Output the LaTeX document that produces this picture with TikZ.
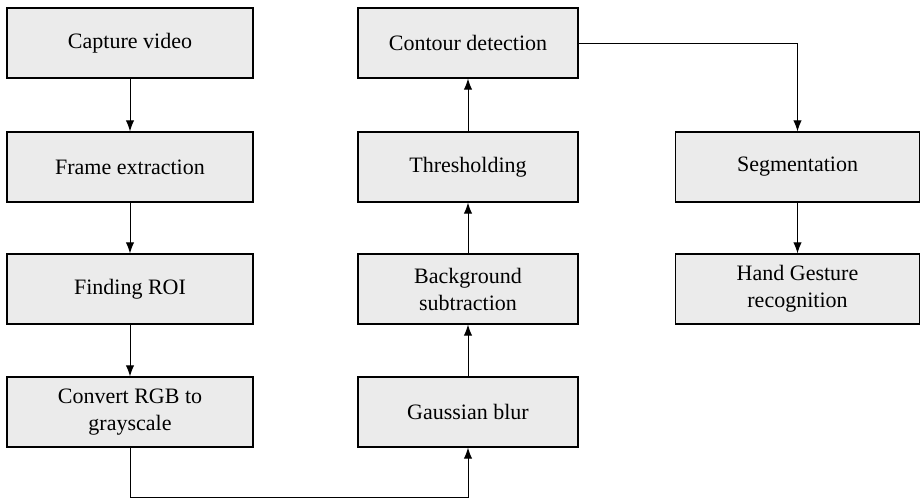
\documentclass[tikz,border=0pt]{standalone}
\usepackage{fontspec}
\setmainfont{LiberationSerif-Regular.ttf}
\usetikzlibrary{arrows.meta}
\definecolor{boxfill}{HTML}{EBEBEB}
\tikzset{
  stepbox/.style={draw=black, line width=0.6pt, fill=boxfill, rectangle,
    minimum height=35pt, align=center, inner sep=2pt,
    font=\rmfamily\fontsize{11pt}{13.5pt}\selectfont},
  colA/.style={stepbox, minimum width=123pt},
  colB/.style={stepbox, minimum width=110pt},
  colC/.style={stepbox, minimum width=122pt},
  flow/.style={line width=0.5pt, -{Latex[length=5.5pt,width=4.2pt]}}
}
\begin{document}
\begin{tikzpicture}[x=0.5pt, y=-0.5pt]
  \useasboundingbox (0,0) rectangle (921,500);
  % left column
  \node[colA] (cap)  at (130,43)  {Capture video};
  \node[colA] (fra)  at (130,167) {Frame extraction};
  \node[colA] (roi)  at (130,289) {Finding ROI};
  \node[colA] (gray) at (130,412) {Convert RGB to\\grayscale};
  % middle column
  \node[colB] (cont) at (468,43)  {Contour detection};
  \node[colB] (thr)  at (468,167) {Thresholding};
  \node[colB] (bg)   at (468,289) {Background\\subtraction};
  \node[colB] (gau)  at (468,412) {Gaussian blur};
  % right column
  \node[colC] (seg)  at (797.5,167) {Segmentation};
  \node[colC] (hand) at (797.5,289) {Hand Gesture\\recognition};
  % turning point of the bottom connector
  \coordinate (low) at (0,497);
  % connectors
  \draw[flow] (cap) -- (fra);
  \draw[flow] (fra) -- (roi);
  \draw[flow] (roi) -- (gray);
  \draw[flow] (gray.south) |- (low -| gau.south) -- (gau.south);
  \draw[flow] (gau) -- (bg);
  \draw[flow] (bg) -- (thr);
  \draw[flow] (thr) -- (cont);
  \draw[flow] (cont.east) -| (seg.north);
  \draw[flow] (seg) -- (hand);
\end{tikzpicture}
\end{document}
